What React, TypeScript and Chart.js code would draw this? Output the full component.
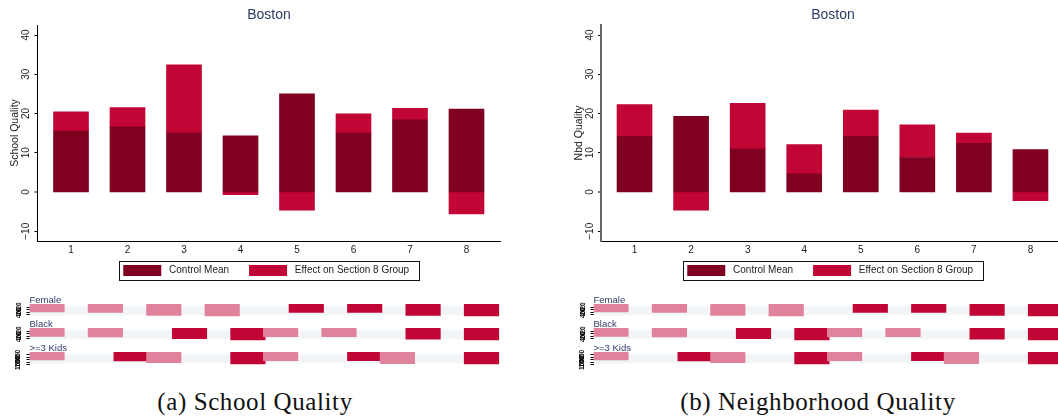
import React, { useEffect, useRef } from "react";
import { Chart, registerables } from "chart.js";

Chart.register(...registerables);

const FONT = "'Liberation Sans', Arial, sans-serif";
const DARK = "#800022";
const RED = "#C10534";
const PINK = "#E0829B";
const BAND = "#F1F5F7";
const NAVY = "#2C3A66";

const categories = [1, 2, 3, 4, 5, 6, 7, 8];
const yTicks = [-10, 0, 10, 20, 30, 40];

const schoolControl = [15.5, 16.6, 15, 14.3, 25, 15, 18.4, 21.1];
const schoolEffect = [4.9, 4.9, 17.4, -0.7, -4.6, 4.9, 2.9, -5.6];
const nbdControl = [14.2, 19.3, 11, 4.6, 14.2, 8.8, 12.4, 10.8];
const nbdEffect = [8.1, -4.6, 11.6, 7.5, 6.7, 8.3, 2.6, -2.2];

const rowLabels = ["Female", "Black", ">=3 Kids"];
// marker rows: slot on the axis, bar height, and whether the effect is significant
const femaleSlots = [1, 2, 3, 4, 5.44, 6.44, 7.44, 8.44];
const femaleHeights = [8, 8.3, 11.5, 12, 8.4, 8.4, 11.4, 11.8];
const femaleSig = [0, 0, 0, 0, 1, 1, 1, 1];
const blackSlots = [1, 2, 3.44, 4.44, 5, 6, 7.44, 8.44];
const blackHeights = [8.5, 8.8, 10.7, 11.8, 8.7, 8.7, 11.2, 11.8];
const blackSig = [0, 0, 1, 1, 0, 0, 1, 1];
const kidsSlots = [1, 2.44, 3, 4.44, 5, 6.44, 7, 8.44];
const kidsHeights = [8, 9, 10.7, 12, 8.7, 8.7, 11.7, 12];
const kidsSig = [0, 1, 0, 1, 0, 1, 0, 1];

const rowTicks = [
  [3, 5.5, 8, 10.5],
  [3, 5.5, 8, 10.5],
  [2.5, 5, 7.5, 10, 12.5],
];
const rowTickLabels = [
  ["-20", "0", "20", "40"],
  ["-20", "0", "20", "40"],
  ["-50", "0", "50", "100", "150"],
];

const legendFrame = {
  id: "legendFrame",
  afterDraw(chart: any) {
    const boxes = chart.legend?.legendHitBoxes;
    if (!boxes || !boxes.length) return;
    const left = boxes[0].left - 4.5;
    const last = boxes[boxes.length - 1];
    const right = last.left + last.width + 4.4;
    const top = boxes[0].top - 4;
    const ctx = chart.ctx;
    ctx.save();
    ctx.strokeStyle = "#111";
    ctx.lineWidth = 1;
    ctx.strokeRect(Math.round(left) + 0.5, Math.round(top) + 0.5, Math.round(right - left), 19);
    ctx.restore();
  },
};

function hiddenRight(width: number) {
  return {
    position: "right",
    display: true,
    min: 0,
    max: 1,
    grid: { display: false },
    border: { display: false },
    ticks: { display: false },
    afterFit: (s: any) => { s.width = width; s.paddingTop = 0; s.paddingBottom = 0; },
  };
}

function MainChart({ left, axisLeft, axisColor, axisWidth, ylabel, control, effect }: any) {
  const ref = useRef<HTMLCanvasElement>(null);
  useEffect(() => {
    const points = (vals: number[]) => vals.map((v, i) => ({ x: categories[i], y: v }));
    const chart = new Chart(ref.current!, {
      type: "bar",
      data: {
        datasets: [
          { label: "Control Mean", data: points(control), backgroundColor: DARK, barThickness: 35, borderWidth: 0 },
          { label: "Effect on Section 8 Group", data: points(effect), backgroundColor: RED, barThickness: 35, borderWidth: 0 },
        ],
      },
      options: {
        animation: false,
        responsive: false,
        layout: { padding: 0 },
        plugins: {
          tooltip: { enabled: false },
          title: {
            display: true,
            text: "Boston",
            color: NAVY,
            font: { family: FONT, size: 14, weight: "normal" },
            padding: { top: 7, bottom: 1.2 },
          },
          legend: {
            display: true,
            position: "bottom",
            labels: {
              boxWidth: 38,
              boxHeight: 11,
              padding: 20,
              color: "#222",
              font: { family: FONT, size: 10 },
              generateLabels: (c: any) =>
                Chart.defaults.plugins.legend.labels.generateLabels(c).map((l: any, i: number) => ({
                  ...l,
                  text: " " + l.text + (i === 1 ? "  " : ""),
                  lineWidth: 0,
                })),
            },
          },
        },
        scales: {
          x: {
            type: "linear",
            stacked: true,
            offset: false,
            min: 0.407,
            max: 8.593,
            grid: { display: false, drawTicks: false },
            border: { display: true, color: "#000", width: 1 },
            afterBuildTicks: (s: any) => { s.ticks = categories.map((v) => ({ value: v })); },
            afterFit: (s: any) => { s.height = 4; s.paddingLeft = 0; s.paddingRight = 0; },
            ticks: { color: "#222", mirror: true, padding: -15.4, maxRotation: 0, autoSkip: false, font: { family: FONT, size: 10 }, callback: (v: any) => String(v) },
          },
          y: {
            type: "linear",
            stacked: true,
            min: -12.484,
            max: 42.548,
            grid: {
              display: true,
              drawOnChartArea: false,
              drawTicks: true,
              tickLength: 3,
              tickColor: "#000",
              tickWidth: 1,
              lineWidth: (c: any) => (c.tick && c.tick.value === 0 ? 0 : 1),
            },
            border: { display: true, color: axisColor, width: axisWidth },
            afterBuildTicks: (s: any) => { s.ticks = yTicks.map((v) => ({ value: v })); },
            afterFit: (s: any) => { s.width = axisLeft; s.paddingTop = 0; s.paddingBottom = 0; },
            title: { display: true, text: ylabel, color: "#222", font: { family: FONT, size: 10.5 }, padding: { top: 9, bottom: 0 } },
            ticks: {
              color: "#222",
              padding: -0.5,
              autoSkip: false,
              minRotation: 90,
              maxRotation: 90,
              crossAlign: "center",
              font: { family: FONT, size: 10 },
              callback: (v: any) => (v < 0 ? "\u2212" + Math.abs(v) : String(v)),
            },
          },
          r: hiddenRight(38),
        },
      } as any,
      plugins: [legendFrame],
    });
    return () => chart.destroy();
  }, []);
  return <canvas ref={ref} width={538} height={286} style={{ position: "absolute", left, top: 0, width: 538, height: 286 }} />;
}

function Tile({ left, top, label, slots, heights, sig, ticks, tickLabels }: any) {
  const ref = useRef<HTMLCanvasElement>(null);
  useEffect(() => {
    const pick = (flag: number) =>
      slots.map((x: number, i: number) => ({ x, y: heights[i], f: sig[i] })).filter((p: any) => p.f === flag);
    const chart = new Chart(ref.current!, {
      type: "bar",
      data: {
        datasets: [
          { label: "Not significant", data: pick(0), backgroundColor: PINK, barThickness: 34.5, grouped: false, order: 1 },
          { label: "Significant", data: pick(1), backgroundColor: RED, barThickness: 34.5, grouped: false, order: 2 },
          { label: "Band", data: [{ x: 4.73, y: [2.7, 11] }], backgroundColor: BAND, barThickness: 470, grouped: false, order: 3 },
        ],
      },
      options: {
        animation: false,
        responsive: false,
        layout: { padding: 0 },
        plugins: { tooltip: { enabled: false }, legend: { display: false } },
        scales: {
          x: {
            type: "linear",
            position: "top",
            offset: false,
            min: 0.7,
            max: 8.757,
            grid: { display: false },
            border: { display: false },
            ticks: { display: false },
            afterFit: (s: any) => { s.height = 14; s.paddingLeft = 0; s.paddingRight = 0; },
            title: { display: true, text: label, align: "start", color: NAVY, font: { family: FONT, size: 9.5 }, padding: { top: 4.5, bottom: 0 } },
          },
          y: {
            type: "linear",
            reverse: true,
            min: 0,
            max: 18,
            grid: { display: true, drawOnChartArea: false, drawTicks: true, tickLength: 3, tickColor: "#000" },
            border: { display: false },
            afterBuildTicks: (s: any) => { s.ticks = ticks.map((v: number) => ({ value: v })); },
            afterFit: (s: any) => { s.width = 29.5; s.paddingTop = 0; s.paddingBottom = 0; },
            ticks: {
              color: "#000",
              padding: 3,
              autoSkip: false,
              minRotation: 90,
              maxRotation: 90,
              crossAlign: "center",
              font: { family: FONT, size: 6.5, weight: "bold" },
              callback: (v: any) => tickLabels[ticks.indexOf(v)] ?? "",
            },
          },
          r: hiddenRight(38),
        },
      } as any,
    });
    return () => chart.destroy();
  }, []);
  return <canvas ref={ref} width={538} height={32} style={{ position: "absolute", left, top, width: 538, height: 32 }} />;
}

function Panel({ left, axisLeft, axisColor, axisWidth, ylabel, control, effect }: any) {
  return (
    <>
      <MainChart left={left} axisLeft={axisLeft} axisColor={axisColor} axisWidth={axisWidth} ylabel={ylabel} control={control} effect={effect} />
      <Tile left={left} top={290} label={rowLabels[0]} slots={femaleSlots} heights={femaleHeights} sig={femaleSig} ticks={rowTicks[0]} tickLabels={rowTickLabels[0]} />
      <Tile left={left} top={314} label={rowLabels[1]} slots={blackSlots} heights={blackHeights} sig={blackSig} ticks={rowTicks[1]} tickLabels={rowTickLabels[1]} />
      <Tile left={left} top={338} label={rowLabels[2]} slots={kidsSlots} heights={kidsHeights} sig={kidsSig} ticks={rowTicks[2]} tickLabels={rowTickLabels[2]} />
    </>
  );
}

const captionStyle: React.CSSProperties = {
  position: "absolute",
  top: 388,
  fontFamily: "'Liberation Serif', serif",
  fontSize: 25,
  lineHeight: "28px",
  color: "#111",
  whiteSpace: "nowrap",
  transform: "translateX(-50%)",
  letterSpacing: 0.6,
};

export default function App() {
  return (
    <div style={{ position: "fixed", left: 0, top: 0, width: 1058, height: 420, overflow: "hidden", background: "#fff" }}>
      <Panel left={0} axisLeft={37.5} axisColor="#000" axisWidth={1} ylabel="School Quality" control={schoolControl} effect={schoolEffect} />
      <Panel left={564} axisLeft={37} axisColor="#666" axisWidth={2} ylabel="Nbd Quality" control={nbdControl} effect={nbdEffect} />
      <div style={{ ...captionStyle, left: 255 }}>(a) School Quality</div>
      <div style={{ ...captionStyle, left: 818 }}>(b) Neighborhood Quality</div>
    </div>
  );
}
